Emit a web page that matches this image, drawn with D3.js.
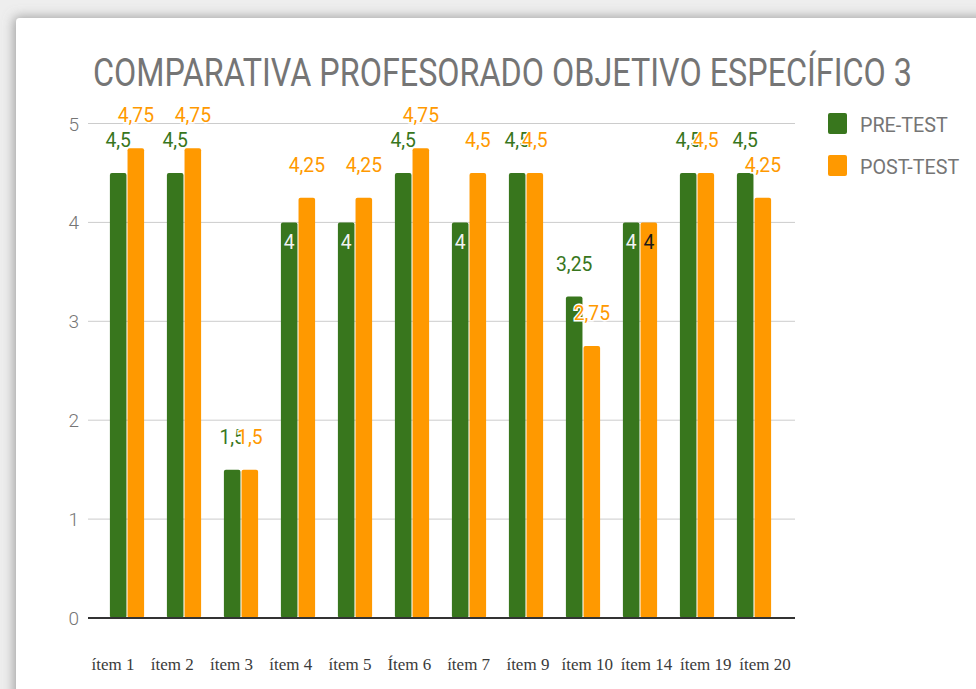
<!DOCTYPE html>
<html>
<head>
<meta charset="utf-8">
<script src="https://cdn.jsdelivr.net/npm/d3@7"></script>
<style>
  html, body { margin: 0; padding: 0; background: #eeeeee; }
  svg { display: block; }
</style>
</head>
<body>
<div id="chart"></div>
<script>
// data
const items = ["ítem 1", "ítem 2", "ítem 3", "ítem 4", "ítem 5", "Ítem 6", "ítem 7", "ítem 9", "ítem 10", "ítem 14", "ítem 19", "ítem 20"]
const preTest = [4.5, 4.5, 1.5, 4, 4, 4.5, 4, 4.5, 3.25, 4, 4.5, 4.5]
const postTest = [4.75, 4.75, 1.5, 4.25, 4.25, 4.75, 4.5, 4.5, 2.75, 4, 4.5, 4.25]
const seriesNames = ["PRE-TEST", "POST-TEST"]
const yTicks = [0, 1, 2, 3, 4, 5]
const title = "COMPARATIVA PROFESORADO OBJETIVO ESPECÍFICO 3"

// global settings
const width = 976
const height = 689
const colors = ["#38761d", "#ff9900"]
const insideColors = ["#f2f2f2", "#1a1a1a"]
const gray = "#757575"

const rows = items.map((name, i) => ({ name, values: [preTest[i], postTest[i]] }))

const svg = d3.select("#chart").append("svg")
  .attr("width", width)
  .attr("height", height)

// card with soft shadow, like the screenshot
const defs = svg.append("defs")
const shadow = defs.append("filter").attr("id", "shadow")
  .attr("x", "-10%").attr("y", "-10%").attr("width", "130%").attr("height", "130%")
shadow.append("feDropShadow")
  .attr("dx", -2).attr("dy", -1).attr("stdDeviation", 6)
  .attr("flood-color", "#8a8a8a").attr("flood-opacity", 0.8)

svg.append("rect")
  .attr("x", 16).attr("y", 18)
  .attr("width", 1000).attr("height", 720)
  .attr("rx", 4)
  .attr("fill", "#ffffff")
  .attr("filter", "url(#shadow)")

// scales
const y = d3.scaleLinear().domain([0, 5]).range([618, 123.5])
const x0 = d3.scaleBand().domain(items).range([98.5, 782.5]).paddingInner(0.4).paddingOuter(0.2)
const x1 = d3.scaleBand().domain([0, 1]).range([0, x0.bandwidth()]).paddingInner(0.06)
// the item labels are spread a bit wider than the bar groups
const xLabel = d3.scalePoint().domain(items).range([113, 765])

const gridLeft = 88
const gridRight = 795

// title
svg.append("text")
  .attr("x", 93).attr("y", 86)
  .attr("font-family", "Roboto, sans-serif")
  .attr("font-size", 38)
  .attr("fill", gray)
  .attr("textLength", 819)
  .attr("lengthAdjust", "spacingAndGlyphs")
  .text(title)

// gridlines + y labels
const yAxis = svg.append("g")
yAxis.selectAll("line")
  .data(yTicks.filter(t => t > 0))
  .enter().append("line")
  .attr("x1", gridLeft).attr("x2", gridRight)
  .attr("y1", d => y(d)).attr("y2", d => y(d))
  .attr("stroke", "#cccccc").attr("stroke-width", 1)

yAxis.selectAll("text")
  .data(yTicks)
  .enter().append("text")
  .attr("x", 79)
  .attr("y", d => y(d) + 7)
  .attr("text-anchor", "end")
  .attr("font-family", "Roboto, sans-serif")
  .attr("font-weight", 300)
  .attr("font-size", 19)
  .attr("fill", gray)
  .text(d => d)

// bars
const group = svg.selectAll("g.item")
  .data(rows)
  .enter().append("g")
  .attr("class", "item")
  .attr("transform", d => `translate(${x0(d.name)},0)`)

group.selectAll("rect")
  .data(d => d.values)
  .enter().append("rect")
  .attr("x", (v, i) => x1(i))
  .attr("y", v => y(v))
  .attr("width", x1.bandwidth())
  .attr("height", v => y(0) - y(v))
  .attr("rx", 2)
  .attr("fill", (v, i) => colors[i])

// baseline
svg.append("line")
  .attr("x1", gridLeft).attr("x2", gridRight)
  .attr("y1", y(0)).attr("y2", y(0))
  .attr("stroke", "#333333").attr("stroke-width", 2)

// value labels: whole numbers sit inside the bar top, the rest above it
const fmt = v => String(v).replace(".", ",")
const labels = []
;[0, 1].forEach(s => {
  rows.forEach(r => {
    labels.push({ s, name: r.name, v: r.values[s] })
  })
})

svg.append("g").selectAll("text")
  .data(labels)
  .enter().append("text")
  .attr("transform", d => {
    const cx = x0(d.name) + x1(d.s) + x1.bandwidth() / 2
    const inside = Number.isInteger(d.v)
    const ty = inside ? y(d.v) + 27 : y(d.v) - 26
    return `translate(${cx},${ty}) scale(0.92,1)`
  })
  .attr("text-anchor", "middle")
  .attr("font-family", "Roboto, sans-serif")
  .attr("font-size", 21)
  .attr("fill", d => Number.isInteger(d.v) ? insideColors[d.s] : colors[d.s])
  .attr("stroke", d => Number.isInteger(d.v) ? "none" : "#ffffff")
  .attr("stroke-width", 3)
  .attr("paint-order", "stroke")
  .text(d => fmt(d.v))

// x labels
svg.append("g").selectAll("text")
  .data(items)
  .enter().append("text")
  .attr("x", d => xLabel(d))
  .attr("y", 670)
  .attr("text-anchor", "middle")
  .attr("font-family", "'Liberation Serif', serif")
  .attr("font-size", 17)
  .attr("fill", "#3a3a3a")
  .text(d => d)

// legend
const legend = svg.append("g")
  .selectAll("g")
  .data(seriesNames)
  .enter().append("g")
  .attr("transform", (d, i) => `translate(828,${113 + i * 42})`)

legend.append("rect")
  .attr("width", 19).attr("height", 21)
  .attr("rx", 2)
  .attr("fill", (d, i) => colors[i])

legend.append("text")
  .attr("transform", "translate(32,19) scale(0.94,1)")
  .attr("font-family", "Roboto, sans-serif")
  .attr("font-size", 21)
  .attr("fill", gray)
  .text(d => d)
</script>
</body>
</html>
